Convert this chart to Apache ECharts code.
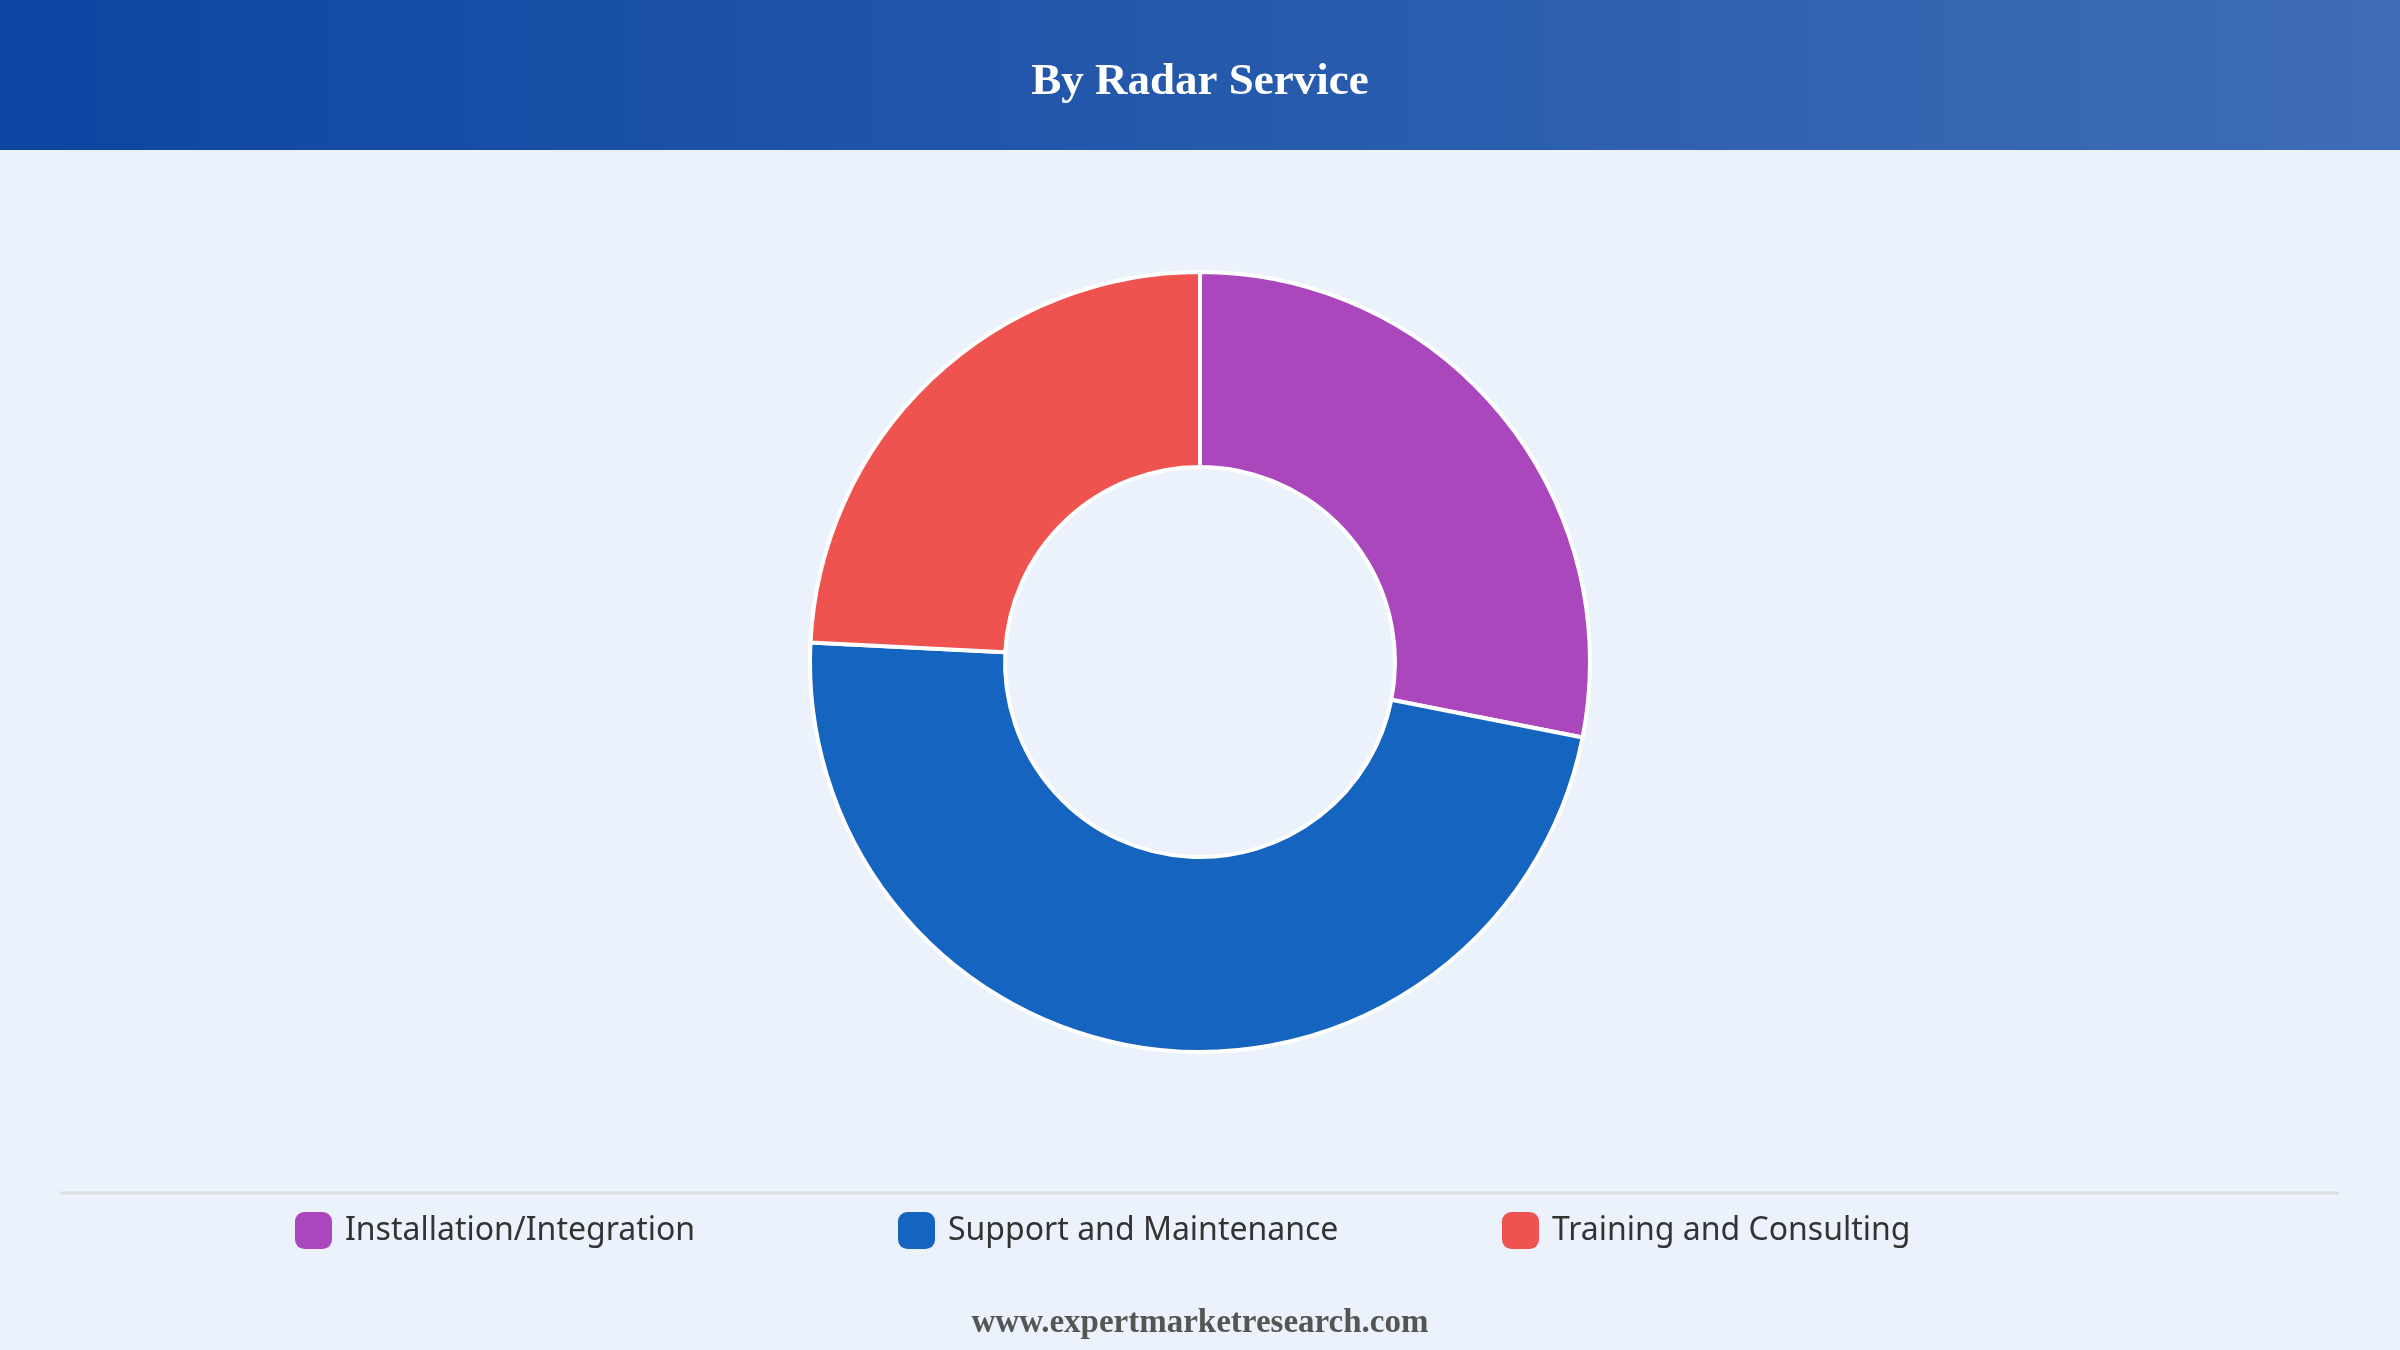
<!DOCTYPE html>
<html>
<head>
<meta charset="utf-8">
<title>By Radar Service</title>
<script src="https://cdn.jsdelivr.net/npm/echarts@6/dist/echarts.min.js"></script>
<style>
  html, body { margin: 0; padding: 0; background: #EBF2FC; }
  #chart { width: 2400px; height: 1350px; }
</style>
</head>
<body>
<div id="chart"></div>
<script>
var titleText = 'By Radar Service';
var footerText = 'www.expertmarketresearch.com';
var categories = ['Installation/Integration', 'Support and Maintenance', 'Training and Consulting'];
var shares = [28.1, 47.7, 24.2];
var colors = ['#AB47BC', '#1565C0', '#EF5350'];

var myChart = echarts.init(document.getElementById('chart'));

// one legend per item so the columns sit at fixed places
var legendLeft = [290, 893, 1497];
var legends = categories.map(function (name, i) {
  return {
    data: [name],
    left: legendLeft[i],
    top: 1207,
    itemWidth: 37,
    itemHeight: 37,
    itemGap: 0,
    icon: 'roundRect',
    selectedMode: false,
    itemStyle: { borderWidth: 0 },
    textStyle: {
      fontFamily: 'Noto Sans',
      fontSize: 32,
      color: '#333333',
      padding: [0, 0, 0, 8]
    }
  };
});

var option = {
  backgroundColor: '#EBF2FC',
  animation: false,
  title: {
    text: titleText,
    left: 'center',
    top: 55,
    textStyle: {
      fontFamily: 'Liberation Serif',
      fontWeight: 'bold',
      fontSize: 45,
      color: '#ffffff'
    }
  },
  legend: legends,
  graphic: [
    {
      type: 'rect',
      z: -1,
      shape: { x: 0, y: 0, width: 2400, height: 150 },
      style: {
        fill: new echarts.graphic.LinearGradient(0, 0, 1, 0, [
          { offset: 0, color: '#0C45A2' },
          { offset: 1, color: '#3E6DB5' }
        ])
      }
    },
    {
      type: 'line',
      shape: { x1: 60, y1: 1193, x2: 2339, y2: 1193 },
      style: { stroke: '#DCDEE2', lineWidth: 3 }
    },
    {
      type: 'text',
      left: 'center',
      top: 1307,
      style: {
        text: footerText,
        fontFamily: 'Liberation Serif',
        fontWeight: 'bold',
        fontSize: 33,
        fill: '#555555'
      }
    }
  ],
  series: [
    {
      type: 'pie',
      center: [1200, 662],
      radius: [195, 390],
      startAngle: 90,
      clockwise: true,
      label: { show: false },
      labelLine: { show: false },
      emphasis: { scale: false },
      itemStyle: {
        borderColor: '#ffffff',
        borderWidth: 4
      },
      data: categories.map(function (name, i) {
        return { name: name, value: shares[i], itemStyle: { color: colors[i] } };
      })
    }
  ]
};

myChart.setOption(option);
window.onresize = myChart.resize;
</script>
</body>
</html>
